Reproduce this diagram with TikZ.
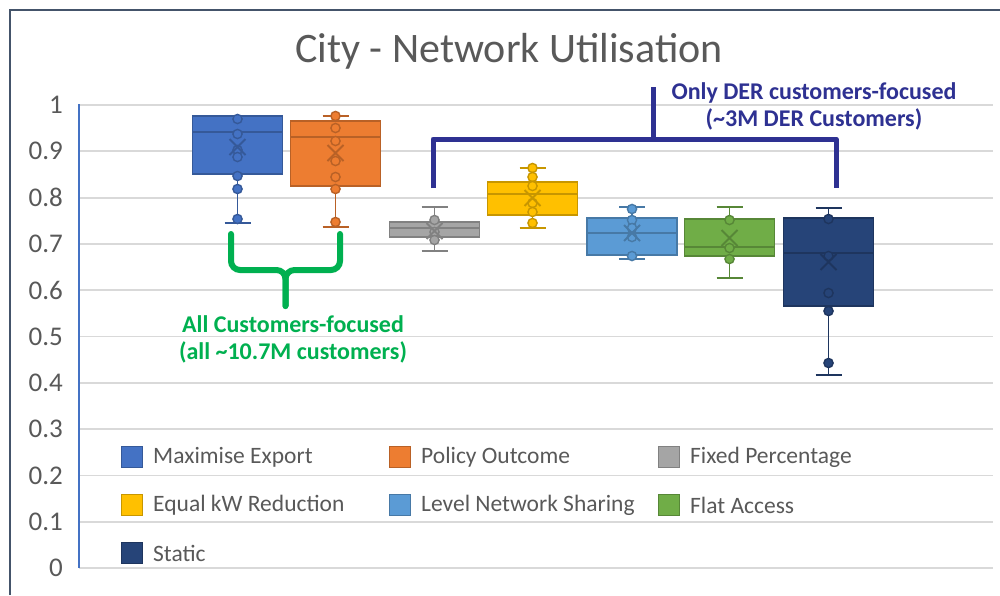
\documentclass[tikz,border=0pt]{standalone}
\usepackage{fontspec}
\setmainfont{Carlito}
\definecolor{cMax}{HTML}{4472C4}
\definecolor{cPol}{HTML}{ED7D31}
\definecolor{cFix}{HTML}{A5A5A5}
\definecolor{cEq}{HTML}{FFC000}
\definecolor{cLev}{HTML}{5B9BD5}
\definecolor{cFlat}{HTML}{70AD47}
\definecolor{cSta}{HTML}{264478}
\definecolor{gridc}{HTML}{D9D9D9}
\definecolor{txtc}{HTML}{595959}
\definecolor{framec}{HTML}{44546A}
\definecolor{derblue}{HTML}{2E3192}
\definecolor{allgreen}{HTML}{00B050}
\tikzset{
  gridline/.style={draw=gridc, line width=1.8pt},
  ticklbl/.style={anchor=east, text=txtc, font=\fontsize{27}{30}\selectfont, inner sep=0pt},
  legtxt/.style={anchor=west, text=txtc, font=\fontsize{23.5}{26}\selectfont, inner sep=0pt},
  annot/.style={align=center, font=\bfseries\fontsize{24}{27}\selectfont, inner sep=0pt},
}
\newcommand\bxp[9]{%
  \begin{scope}[draw=#8!78!black, line width=1.6pt]
    \draw (#1,#2) -- (#1,#5);
    \draw (#1-13,#5) -- (#1+13,#5);
    \draw (#1,#3) -- (#1,#6);
    \draw (#1-13,#6) -- (#1+13,#6);
    \fill[#8, draw=#8!78!black] (#1-45,#2) rectangle (#1+45,#3);
    \draw (#1-45,#4) -- (#1+45,#4);
    \foreach \p in {#9} {\filldraw[fill=#8, line width=1.4pt] (#1,\p) circle (4.6);}
    \draw[line width=1.8pt] (#1-8,#7-8) -- (#1+8,#7+8) (#1-8,#7+8) -- (#1+8,#7-8);
  \end{scope}}
\newcommand\legitem[4]{%
  \filldraw[fill=#3, draw=#3!78!black, line width=1pt] (#1,#2-10.5) rectangle (#1+21,#2+10.5);
  \node[legtxt] (#4) at (#1+32,#2) {\csname lg#4\endcsname};}
\begin{document}
\begin{tikzpicture}[x=1pt, y=-1pt]
\useasboundingbox (0,0) rectangle (1000,595);
\fill[white] (0,0) rectangle (1000,595);
% frame
\draw[framec, line width=1.2pt] (10,595) -- (10,10) -- (1000,10);
% title
\node[text=txtc, font=\fontsize{42}{48}\selectfont, inner sep=0pt] (title) at (509,51) {City - Network Utilisation};
% grid and tick labels
\foreach \k/\lab in {0/0,1/0.1,2/0.2,3/0.3,4/0.4,5/0.5,6/0.6,7/0.7,8/0.8,9/0.9,10/1} {
  \pgfmathsetmacro\yy{568-46.3*\k}
  \draw[gridline] (79,\yy) -- (993,\yy);
  \node[ticklbl] (t\k) at (63,\yy) {\lab};
}
\draw[cMax, line width=1.2pt] (79,104) -- (79,568);
% box plots
\bxp{237.5}{116}{174}{132}{116}{223}{147}{cMax}{119,134,150,157,176,189,219}
\bxp{335.5}{121}{186}{137}{116}{227}{153}{cPol}{116,128,141,161,177,189,222}
\bxp{434.5}{222}{237}{228}{207}{251}{231}{cFix}{220,232,240}
\bxp{532.5}{182}{215}{194}{168}{228}{198}{cEq}{168,177,186,203,212,223}
\bxp{632}{218}{255}{233}{207}{259}{233}{cLev}{209,220,228,237,256}
\bxp{729.5}{219}{256}{247}{207}{278}{238}{cFlat}{220,248,259}
\bxp{828.5}{218}{306}{253}{208}{375}{262}{cSta}{219,256,293,311,363}
% DER bracket
\coordinate (b1) at (433,188);
\coordinate (b2) at (433,139);
\coordinate (b3) at (836,139);
\coordinate (b4) at (836,188);
\coordinate (bm) at (653,139);
\coordinate (bt) at (653,87);
\draw[derblue, line width=5pt, line join=round] (b1) -- (b2) -- (b3) -- (b4);
\draw[derblue, line width=5pt] (bm) -- (bt);
\node[annot, text=derblue] (der) at (814,106) {Only DER customers-focused\\(\textasciitilde3M DER Customers)};
% green brace
\coordinate (g1) at (231,234);
\coordinate (g2) at (231,270);
\coordinate (gm) at (285.5,270);
\coordinate (gb) at (285.5,306);
\coordinate (g3) at (340,270);
\coordinate (g4) at (340,234);
\draw[allgreen, line width=6pt, rounded corners=9pt, line cap=round] (g1) -- (g2) -- (gm) -- (gb);
\draw[allgreen, line width=6pt, rounded corners=9pt, line cap=round] (g4) -- (g3) -- (gm) -- (gb);
\node[annot, text=allgreen] (all) at (293,339) {All Customers-focused\\(all \textasciitilde10.7M customers)};
% legend
\expandafter\def\csname lgA\endcsname{Maximise Export}
\expandafter\def\csname lgB\endcsname{Policy Outcome}
\expandafter\def\csname lgC\endcsname{Fixed Percentage}
\expandafter\def\csname lgD\endcsname{Equal kW Reduction}
\expandafter\def\csname lgE\endcsname{Level Network Sharing}
\expandafter\def\csname lgF\endcsname{Flat Access}
\expandafter\def\csname lgG\endcsname{Static}
\legitem{121}{457}{cMax}{A}
\legitem{389}{457}{cPol}{B}
\legitem{658}{457}{cFix}{C}
\legitem{121}{505}{cEq}{D}
\legitem{389}{505}{cLev}{E}
\legitem{658}{505}{cFlat}{F}
\legitem{121}{553}{cSta}{G}
\end{tikzpicture}
\end{document}
